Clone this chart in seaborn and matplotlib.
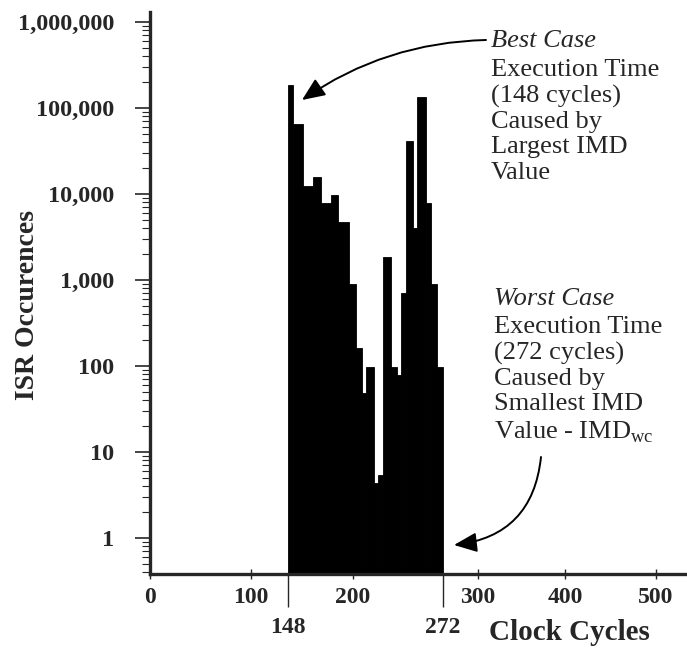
import numpy as np
import matplotlib
matplotlib.use('Agg')
import matplotlib.pyplot as plt
import seaborn as sns

# ------------------------------------------
# data
# ------------------------------------------
bin_edges = [148, 152, 160, 168, 174, 182, 188, 197, 202, 207, 210, 217, 220,
             224, 230, 235, 238, 242, 248, 251, 258, 262, 267, 272]
occurrences = [185000, 65000, 12300, 15700, 7800, 9700, 4700, 890, 160, 48,
               98, 4.4, 5.4, 1830, 98, 79, 700, 41200, 4000, 134000, 7800,
               890, 98]

x_ticks = [0, 100, 200, 300, 400, 500]
x_tick_labels = ['0', '100', '200', '300', '400', '500']
marked_cycles = [148, 272]
y_ticks = [1, 10, 100, 1000, 10000, 100000, 1000000]
y_tick_labels = ['1', '10', '100', '1,000', '10,000', '100,000', '1,000,000']

best_text = ['Execution Time', '(148 cycles)', 'Caused by', 'Largest IMD', 'Value']
worst_text = ['Execution Time', '(272 cycles)', 'Caused by', 'Smallest IMD',
              r'Value - IMD$_{\mathregular{wc}}$']

# the printed cycle axis is hand drawn and not linear: knots of that axis
axis_cycles = [-100, 0, 100, 148, 272, 300, 400, 500, 1000]
axis_pos = [49, 150, 251, 288, 443, 478, 565, 656, 1111]


def fwd(v):
    return np.interp(v, axis_cycles, axis_pos)


def inv(v):
    return np.interp(v, axis_pos, axis_cycles)


sns.set_style('ticks')
plt.rcParams['font.family'] = ['Liberation Serif', 'DejaVu Serif']
plt.rcParams['mathtext.fontset'] = 'custom'
plt.rcParams['mathtext.rm'] = 'Liberation Serif'

W, H = 687, 649
fig = plt.figure(figsize=(W / 100, H / 100), dpi=100)
ax = fig.add_axes([150 / W, 1 - 574 / H, 1 - 150 / W, (574 - 12) / H])

centers = (np.array(bin_edges[:-1]) + np.array(bin_edges[1:])) / 2
sns.histplot(x=centers, weights=occurrences, bins=bin_edges, color='black',
             edgecolor='black', linewidth=0.6, alpha=1, ax=ax)

ax.set_yscale('log')
ax.set_ylim(0.38, 1.31e6)
ax.set_xscale('function', functions=(fwd, inv))
ax.set_xlim(0, 534)

for side in ['top', 'right']:
    ax.spines[side].set_visible(False)
ax.spines['left'].set_linewidth(2.4)
ax.spines['bottom'].set_linewidth(2.4)

ax.set_yticks(y_ticks)
ax.set_yticklabels(y_tick_labels, fontsize=17.5, fontweight='bold')
ax.tick_params(axis='y', which='major', length=11, width=1.2, pad=15)
ax.tick_params(axis='y', which='minor', length=6, width=0.8)

ax.set_xticks(x_ticks)
ax.set_xticklabels(x_tick_labels, fontsize=17, fontweight='bold')
ax.set_xticks(marked_cycles, minor=True)
ax.set_xticklabels([str(c) for c in marked_cycles], minor=True,
                   fontsize=17, fontweight='bold')
ax.tick_params(axis='x', which='major', direction='inout', length=7,
               width=1.0, pad=6)
ax.tick_params(axis='x', which='minor', direction='out', length=24,
               width=1.0, pad=7)

ax.set_ylabel('')
ax.set_xlabel('')
fig.text(28 / W, 1 - 305 / H, 'ISR Occurences', fontsize=20,
         fontweight='bold', rotation=90, va='center', ha='center')
fig.text(489 / W, 1 - 633 / H, 'Clock Cycles', fontsize=21,
         fontweight='bold', va='center', ha='left')

# annotation blocks
fig.text(491 / W, 1 - 30 / H, 'Best Case', fontsize=19, style='italic',
         va='top', ha='left')
fig.text(491 / W, 1 - 59 / H, '\n'.join(best_text), fontsize=19,
         va='top', ha='left', linespacing=1.2)
fig.text(494 / W, 1 - 288 / H, 'Worst Case', fontsize=19, style='italic',
         va='top', ha='left')
fig.text(494 / W, 1 - 316 / H, '\n'.join(worst_text), fontsize=19,
         va='top', ha='left', linespacing=1.2)

arrow = dict(arrowstyle='-|>,head_length=0.7,head_width=0.3',
             color='black', lw=1.4, mutation_scale=20, shrinkA=0, shrinkB=0)
ax.annotate('', xy=(302 / W, 1 - 100 / H), xycoords='figure fraction',
            xytext=(486 / W, 1 - 40 / H), textcoords='figure fraction',
            arrowprops=dict(arrow, connectionstyle='arc3,rad=0.15'))
ax.annotate('', xy=(454 / W, 1 - 545 / H), xycoords='figure fraction',
            xytext=(541 / W, 1 - 457 / H), textcoords='figure fraction',
            arrowprops=dict(arrow, connectionstyle='arc3,rad=-0.4'))

fig.savefig('out.png', dpi=100)
